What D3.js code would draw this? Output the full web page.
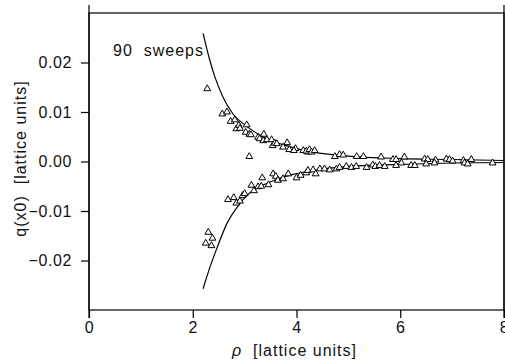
<!DOCTYPE html>
<html lang="en">
<head>
<meta charset="UTF-8">
<title>q(x0) vs rho</title>
<script src="https://d3js.org/d3.v7.min.js"></script>
<style>
  body { margin: 0; background: #fff; }
  text { font-family: "Liberation Sans", Arial, sans-serif; fill: #111; }
</style>
</head>
<body>
<div id="chartID"></div>
<script>
// data points, upper branch (rho, q)
var upperRho = [2.28, 2.57, 2.66, 2.73, 2.81, 2.84, 2.89, 2.91, 3.04, 3.02, 3.09, 3.12, 3.26, 3.29, 3.37, 3.36,
                3.43, 3.52, 3.54, 3.58, 3.62, 3.82, 3.74, 3.86, 3.98, 3.95, 4.13, 4.22, 3.09,
                4.19, 4.25, 4.29, 4.35, 4.74, 4.83, 4.90, 5.16, 5.29, 5.63, 5.86, 5.92, 6.08,
                6.47, 6.53, 6.68, 6.89, 6.95, 7.01, 7.22, 7.37];
var upperQ   = [0.0147, 0.0096, 0.0100, 0.0081, 0.0084, 0.0066, 0.0073, 0.0067, 0.0074, 0.0059, 0.0055, 0.0054,
                0.0049, 0.0046, 0.0055, 0.0042, 0.0044, 0.0044, 0.0032, 0.0037, 0.0036, 0.0038, 0.0029, 0.0024,
                0.0026, 0.0022, 0.0022, 0.0019, 0.0010,
                0.0021, 0.0024, 0.0019, 0.0022, 0.0010, 0.0014, 0.0013, 0.0010, 0.0010, 0.0009, 0.0004,
                0.0004, 0.0009, 0.0005, 0.0004, 0.0003, 0.0005, 0.0004, 0.0001, 0.0002, 0.0004];

// data points, lower branch
var lowerRho = [2.30, 2.38, 2.25, 2.36, 2.68, 2.79, 2.84, 2.91, 2.96, 3.00, 3.13, 3.18, 3.26, 3.32, 3.34, 3.46,
                3.55, 3.60, 3.64, 3.74, 3.84, 4.00, 4.08, 4.19, 4.22, 4.32, 4.37, 4.45, 4.54, 4.64,
                4.77, 4.83, 4.96, 5.06, 5.15, 5.35, 5.47, 5.52, 5.60, 5.70, 5.92, 6.02, 6.21, 6.28,
                6.50, 6.66, 7.24, 7.30, 7.78];
var lowerQ   = [-0.0143, -0.0155, -0.0165, -0.0170, -0.0077, -0.0073, -0.0084, -0.0080, -0.0069, -0.0065,
                -0.0048, -0.0059, -0.0051, -0.0050, -0.0033, -0.0047, -0.0025, -0.0030, -0.0038, -0.0035,
                -0.0025, -0.0033, -0.0028, -0.0023, -0.0018, -0.0017, -0.0025, -0.0015, -0.0015, -0.0017,
                -0.0015, -0.0012, -0.0010, -0.0012, -0.0010, -0.0012, -0.0007, -0.0010, -0.0008, -0.0010,
                -0.0008, -0.0003, -0.0008, -0.0008, -0.0005, -0.0003, -0.0003, -0.0005, -0.0003];

// fitted curves
var curveUpRho = [2.20, 2.33, 2.43, 2.58, 2.77, 3.04, 3.35, 3.74, 4.12, 5.0, 6.0, 7.0, 8.0];
var curveUpQ   = [0.0259, 0.0204, 0.0170, 0.0131, 0.0097, 0.0071, 0.0050, 0.0034, 0.0023, 0.0011, 0.0006, 0.0004, 0.0002];
var curveLoRho = [2.20, 2.33, 2.47, 2.66, 2.85, 3.04, 3.29, 3.62, 3.93, 4.22, 5.0, 6.0, 7.0, 8.0];
var curveLoQ   = [-0.0257, -0.0214, -0.0174, -0.0125, -0.0093, -0.0069, -0.0051, -0.0036, -0.0026, -0.0020,
                  -0.0010, -0.0006, -0.0003, -0.0002];

var xTicks = [0, 2, 4, 6, 8];
var yTicks = [-0.02, -0.01, 0.00, 0.01, 0.02];

var W = 505, H = 363;
var margin = {top: 13, right: 1, bottom: 53, left: 89};
var width = W - margin.left - margin.right;
var height = H - margin.top - margin.bottom;

var svg = d3.select("#chartID").append("svg")
    .attr("width", W)
    .attr("height", H)
    .append("g")
    .attr("transform", "translate(" + margin.left + "," + margin.top + ")");

var x = d3.scaleLinear().domain([0, 8]).range([0, width]);
var y = d3.scaleLinear().domain([-0.03, 0.03]).range([height, 0]);

// axes
var xAxis = svg.append("g")
    .attr("transform", "translate(0," + height + ")")
    .call(d3.axisBottom(x).tickValues(xTicks).tickSize(8).tickPadding(4)
      .tickFormat(d3.format("d")));

var yAxis = svg.append("g")
    .call(d3.axisLeft(y).tickValues(yTicks).tickSize(8).tickPadding(9)
      .tickFormat(d3.format(".2f")));

[xAxis, yAxis].forEach(function(a) {
  a.select(".domain").remove();
  a.selectAll("line").attr("stroke", "#000").attr("stroke-width", 1.2);
  a.selectAll("text").style("font-size", "16px").style("letter-spacing", "0.6px").attr("fill", "#111");
});

// frame
svg.append("rect")
    .attr("x", 0).attr("y", 0)
    .attr("width", width).attr("height", height)
    .attr("fill", "none").attr("stroke", "#000").attr("stroke-width", 1.2);
[0, width].forEach(function(px) {
  svg.append("line")
      .attr("x1", px).attr("x2", px).attr("y1", -8).attr("y2", height + 8)
      .attr("stroke", "#000").attr("stroke-width", 1.2);
});

// curves
var line = d3.line()
    .x(function(d) { return x(d[0]); })
    .y(function(d) { return y(d[1]); })
    .curve(d3.curveMonotoneX);

[[curveUpRho, curveUpQ], [curveLoRho, curveLoQ]].forEach(function(c) {
  svg.append("path")
      .datum(d3.zip(c[0], c[1]))
      .attr("d", line)
      .attr("fill", "none")
      .attr("stroke", "#000")
      .attr("stroke-width", 1.2);
});

// triangle points
var tri = d3.symbol().type(d3.symbolTriangle).size(20);
var pts = d3.zip(upperRho, upperQ).concat(d3.zip(lowerRho, lowerQ));
svg.selectAll(".pt")
    .data(pts)
    .enter()
    .append("path")
    .attr("class", "pt")
    .attr("d", tri)
    .attr("transform", function(d) { return "translate(" + x(d[0]) + "," + y(d[1]) + ")"; })
    .attr("fill", "#fff")
    .attr("stroke", "#000")
    .attr("stroke-width", 1);

// annotation
svg.append("text")
    .attr("x", 24).attr("y", 43)
    .attr("xml:space", "preserve")
    .style("font-size", "16px")
    .style("letter-spacing", "1px")
    .style("white-space", "pre")
    .text("90  sweeps");

// axis titles
var xt = svg.append("text")
    .attr("x", width / 2 - 2).attr("y", height + 46)
    .attr("text-anchor", "middle")
    .style("font-size", "16px")
    .style("letter-spacing", "1px")
    .style("white-space", "pre");
xt.append("tspan").style("font-style", "italic").text("\u03c1");
xt.append("tspan").text("  [lattice units]");

svg.append("text")
    .attr("transform", "translate(" + (-63) + "," + (height / 2 - 3) + ") rotate(-90)")
    .attr("text-anchor", "middle")
    .style("font-size", "16px")
    .style("letter-spacing", "1px")
    .style("white-space", "pre")
    .text("q(x0)  [lattice units]");
</script>
</body>
</html>
